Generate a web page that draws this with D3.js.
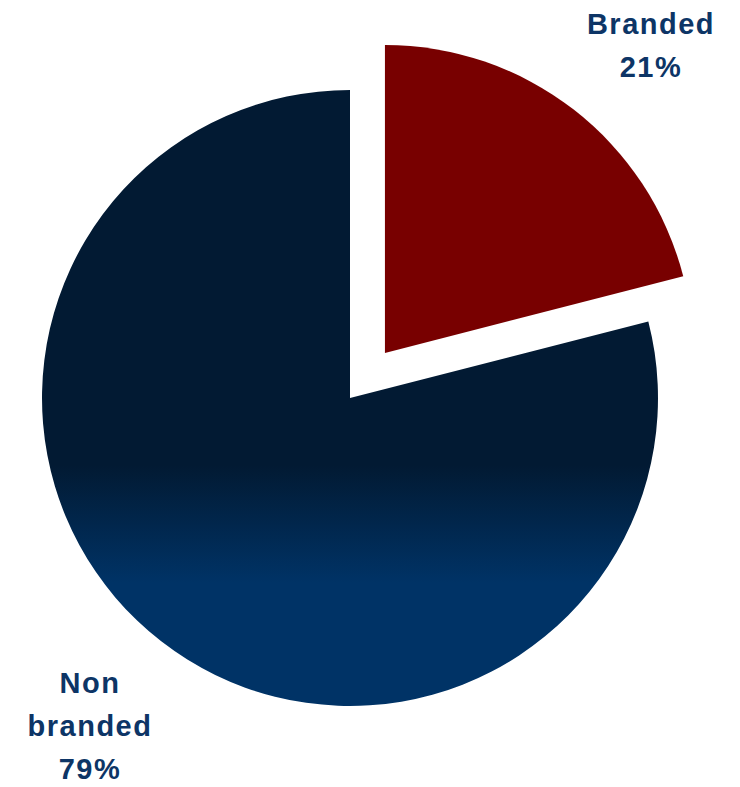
<!DOCTYPE html>
<html>
<head>
<meta charset="utf-8">
<script src="https://cdn.jsdelivr.net/npm/d3@7"></script>
<style>
  body { margin: 0; background: #fff; }
  text { font-family: "Liberation Sans", Arial, sans-serif; font-weight: bold; fill: #0d3566; }
</style>
</head>
<body>
<script>
// chart data
var categories = ["Branded", "Non branded"];
var shares = [21, 79];
var labelLines = [["Branded", "21%"], ["Non", "branded", "79%"]];

var width = 740, height = 787;
var cx = 350, cy = 398, radius = 308;
var explode = 57;

var svg = d3.select("body").append("svg")
    .attr("width", width)
    .attr("height", height);

// gradient is in the pie group's coordinates (centre at 0,0)
var defs = svg.append("defs");
var grad = defs.append("linearGradient")
    .attr("id", "navyGrad")
    .attr("gradientUnits", "userSpaceOnUse")
    .attr("x1", 0).attr("y1", -radius)
    .attr("x2", 0).attr("y2", radius);
grad.append("stop").attr("offset", 0.61).attr("stop-color", "#021a33");
grad.append("stop").attr("offset", 0.80).attr("stop-color", "#003366");
grad.append("stop").attr("offset", 1).attr("stop-color", "#003366");

var colors = ["#780000", "url(#navyGrad)"];

var pie = d3.pie().sort(null).value(d => d);
var arc = d3.arc().innerRadius(0).outerRadius(radius);
var arcs = pie(shares);

var g = svg.append("g").attr("transform", "translate(" + cx + "," + cy + ")");

g.selectAll("path")
    .data(arcs)
    .enter()
    .append("path")
    .attr("d", arc)
    .attr("fill", (d, i) => colors[i])
    .attr("transform", function(d, i) {
        if (i != 0) return null;
        var mid = (d.startAngle + d.endAngle) / 2;
        return "translate(" + (Math.sin(mid) * explode) + "," + (-Math.cos(mid) * explode) + ")";
    });

// labels
var labelPos = [{x: 651, y: 34}, {x: 90, y: 693}];
var lineGap = 43;

labelLines.forEach(function(lines, i) {
    var t = svg.append("text")
        .attr("text-anchor", "middle")
        .attr("font-size", 29)
        .attr("letter-spacing", 1.5);
    lines.forEach(function(s, j) {
        t.append("tspan")
            .attr("x", labelPos[i].x)
            .attr("y", labelPos[i].y + j * lineGap)
            .text(s);
    });
});
</script>
</body>
</html>
